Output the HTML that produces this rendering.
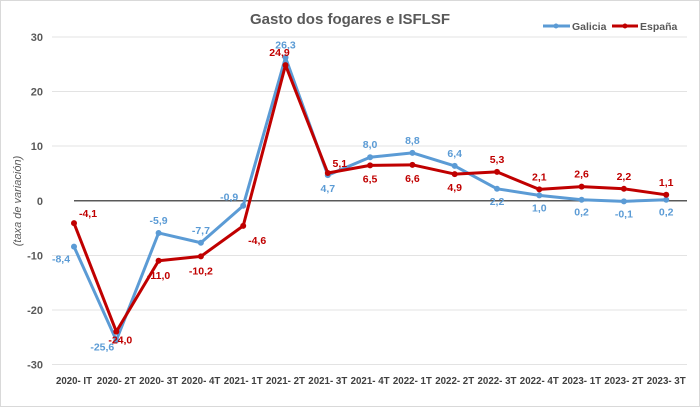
<!DOCTYPE html>
<html><head><meta charset="utf-8"><style>
html,body{margin:0;padding:0;background:#fff}
svg{display:block;font-family:"Liberation Sans",Arial,sans-serif}
</style></head><body>
<svg width="700" height="407" viewBox="0 0 700 407">
<rect x="0.5" y="0.5" width="699" height="406" fill="#fff" stroke="#d9d9d9"/>
<text x="350" y="24" text-anchor="middle" font-size="15" font-weight="bold" fill="#595959">Gasto dos fogares e ISFLSF</text>
<g stroke="#e3e3e3" stroke-width="1">
<line x1="52" x2="687" y1="37" y2="37"/><line x1="52" x2="687" y1="91.5" y2="91.5"/>
<line x1="52" x2="687" y1="146" y2="146"/><line x1="52" x2="687" y1="255.5" y2="255.5"/>
<line x1="52" x2="687" y1="310" y2="310"/><line x1="52" x2="687" y1="364.5" y2="364.5"/>
</g>
<line x1="74" x2="687" y1="200.8" y2="200.8" stroke="#595959" stroke-width="1.5"/>
<g font-size="11" font-weight="bold" fill="#595959" text-anchor="end">
<text x="43" y="41">30</text><text x="43" y="95.5">20</text><text x="43" y="150">10</text>
<text x="43" y="205">0</text><text x="43" y="259.5">-10</text><text x="43" y="314">-20</text><text x="43" y="368.5">-30</text>
</g>
<text transform="translate(21,201) rotate(-90)" text-anchor="middle" font-size="11" font-style="italic" fill="#595959">(taxa de variación)</text>
<g font-size="10" font-weight="bold" fill="#404040" text-anchor="middle" id="xl"></g>
<g id="plot"></g>
<g>
<line x1="543" x2="570" y1="26" y2="26" stroke="#5b9bd5" stroke-width="3"/><circle cx="556" cy="26" r="2.5" fill="#5b9bd5"/>
<text x="572" y="30" font-size="10.5" font-weight="bold" fill="#595959">Galicia</text>
<line x1="612" x2="638" y1="26" y2="26" stroke="#c00000" stroke-width="3"/><circle cx="625" cy="26" r="2.5" fill="#c00000"/>
<text x="640" y="30" font-size="10.5" font-weight="bold" fill="#595959">España</text>
</g>
<script>
var G=[-8.4,-25.6,-5.9,-7.7,-0.9,26.3,4.7,8.0,8.8,6.4,2.2,1.0,0.2,-0.1,0.2];
var E=[-4.1,-24.0,-11.0,-10.2,-4.6,24.9,5.1,6.5,6.6,4.9,5.3,2.1,2.6,2.2,1.1];
var L=["2020- IT","2020- 2T","2020- 3T","2020- 4T","2021- 1T","2021- 2T","2021- 3T","2021- 4T","2022- 1T","2022- 2T","2022- 3T","2022- 4T","2023- 1T","2023- 2T","2023- 3T"];
function X(i){return 74+42.3*i}function Y(v){return 200.8-5.45*v}
var ns="http://www.w3.org/2000/svg",p=document.getElementById("plot"),xl=document.getElementById("xl");
L.forEach(function(t,i){var e=document.createElementNS(ns,"text");e.setAttribute("x",X(i));e.setAttribute("y",384);e.setAttribute("textLength",i==0?36:39);e.setAttribute("lengthAdjust","spacingAndGlyphs");e.textContent=t;xl.appendChild(e)});
function line(d,c,w){var e=document.createElementNS(ns,"polyline");e.setAttribute("points",d.map(function(v,i){return X(i)+","+Y(v)}).join(" "));e.setAttribute("fill","none");e.setAttribute("stroke",c);e.setAttribute("stroke-width",w);e.setAttribute("stroke-linejoin","round");p.appendChild(e);
d.forEach(function(v,i){var k=document.createElementNS(ns,"circle");k.setAttribute("cx",X(i));k.setAttribute("cy",Y(v));k.setAttribute("r",3);k.setAttribute("fill",c);p.appendChild(k)})}
line(G,"#5b9bd5",3);line(E,"#c00000",3);
function lab(d,c,off,b){d.forEach(function(v,i){var o=off[i];var e=document.createElementNS(ns,"text");e.setAttribute("x",X(i)+o[0]);e.setAttribute("y",Y(v)+o[1]);e.setAttribute("text-anchor","middle");e.setAttribute("font-size","10.5");if(b)e.setAttribute("font-weight","bold");e.setAttribute("fill",c);e.textContent=v.toFixed(1).replace(".",",");p.appendChild(e)})}
var gO=[[-13,16],[-14,10],[0,-9],[0,-9],[-14,-5],[0,-9],[0,17],[0,-9],[0,-9],[0,-9],[0,16],[0,16],[0,16],[0,16],[0,16]];
var eO=[[14,-6],[4,12],[0,18],[0,18],[14,18],[-6,-9],[12,-6],[0,17],[0,17],[0,17],[0,-9],[0,-9],[0,-9],[0,-9],[0,-9]];
lab(G,"#5b9bd5",gO,true);lab(E,"#c00000",eO,true);
</script>
</svg>
</body></html>
